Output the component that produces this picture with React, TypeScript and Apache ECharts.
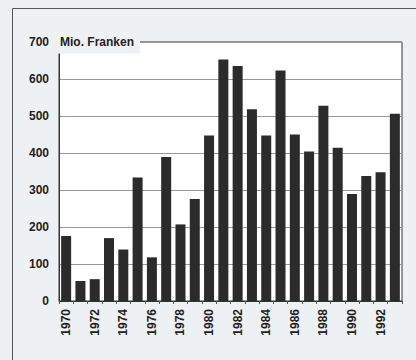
import React, { useEffect, useRef } from "react";
import * as echarts from "echarts";

const years: string[] = [
  "1970","1971","1972","1973","1974","1975","1976","1977","1978","1979","1980","1981",
  "1982","1983","1984","1985","1986","1987","1988","1989","1990","1991","1992","1993",
];
const values: number[] = [
  176, 54, 59, 170, 139, 334, 118, 389, 207, 276, 447, 653,
  635, 518, 447, 623, 450, 404, 528, 414, 289, 338, 348, 506,
];
const unitLabel = "Mio. Franken";

const BG = "#eef1f4";
const FONT = "'Liberation Sans', Arial, sans-serif";

export default function App() {
  const ref = useRef<HTMLDivElement>(null);
  useEffect(() => {
    document.body.style.margin = "0";
    if (!ref.current) return;
    const chart = echarts.init(ref.current, undefined, { renderer: "svg" });
    chart.setOption({
      animation: false,
      backgroundColor: BG,
      grid: {
        left: 59,
        right: 14,
        top: 42,
        bottom: 59,
        show: true,
        backgroundColor: "#ffffff",
        borderColor: "#333",
        borderWidth: 1,
      },
      xAxis: {
        type: "category",
        data: years,
        axisLine: { show: true, lineStyle: { color: "#333", width: 1 } },
        axisTick: { show: true, interval: 0, length: 3, lineStyle: { color: "#555" } },
        axisLabel: {
          interval: 1,
          rotate: 90,
          margin: 8,
          color: "#222",
          fontSize: 12,
          fontWeight: "bold",
          fontFamily: FONT,
        },
      },
      yAxis: {
        type: "value",
        min: 0,
        max: 700,
        interval: 100,
        axisLine: { show: true, lineStyle: { color: "#333", width: 1 } },
        axisTick: { show: false },
        splitLine: { show: true, lineStyle: { color: "#999", width: 1 } },
        axisLabel: {
          margin: 10,
          color: "#222",
          fontSize: 12,
          fontWeight: "bold",
          fontFamily: FONT,
        },
      },
      series: [
        {
          type: "bar",
          data: values,
          barCategoryGap: "30%",
          itemStyle: { color: "#2b2b2b" },
        },
      ],
      graphic: [
        {
          type: "rect",
          shape: { x: 12.5, y: 8.5, width: 700, height: 700 },
          style: { fill: "none", stroke: "#555", lineWidth: 1 },
          z: 100,
        },
        {
          type: "text",
          x: 56,
          y: 42,
          z: 100,
          style: {
            text: unitLabel,
            fill: "#222",
            font: `bold 12px ${FONT}`,
            verticalAlign: "middle",
            backgroundColor: BG,
            padding: [5, 6, 6, 4],
          },
        },
      ],
    });
    return () => chart.dispose();
  }, []);
  return <div ref={ref} style={{ width: 416, height: 360 }} />;
}
